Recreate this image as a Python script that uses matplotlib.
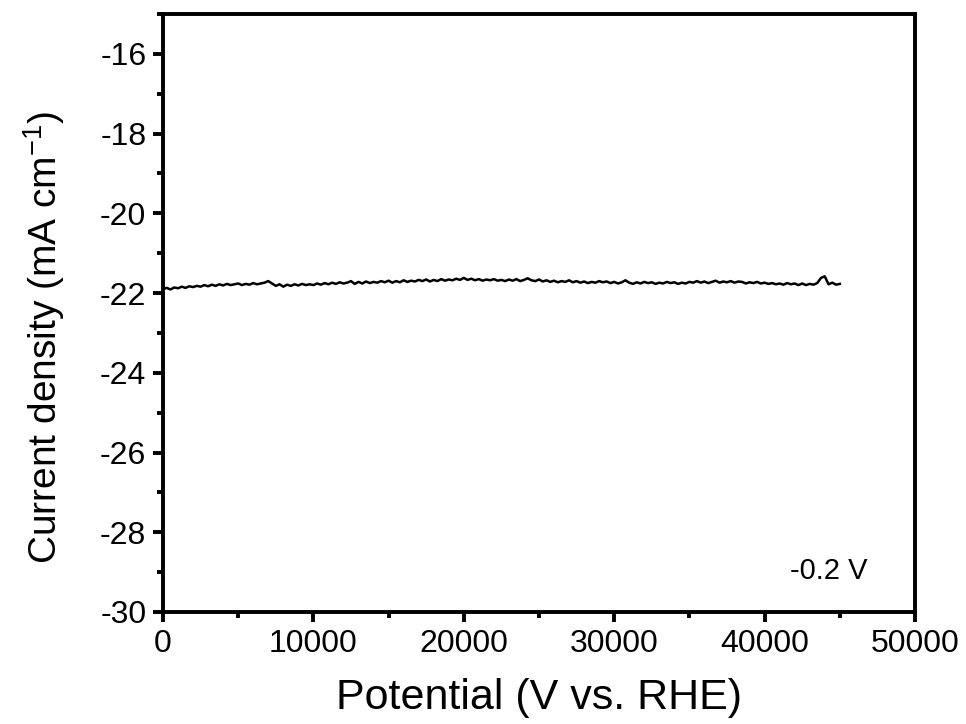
import numpy as np
import matplotlib
matplotlib.use("Agg")
import matplotlib.pyplot as plt
from matplotlib.ticker import MultipleLocator

plt.rcParams["font.family"] = ["Liberation Sans", "DejaVu Sans"]
plt.rcParams["axes.unicode_minus"] = False
plt.rcParams["mathtext.fontset"] = "custom"
plt.rcParams["mathtext.rm"] = "Liberation Sans"
plt.rcParams["mathtext.default"] = "regular"

# time samples every 250 s, current density
time_s = np.arange(0, 45001, 250)
current = [
    -21.90, -21.87, -21.91, -21.86, -21.88, -21.84, -21.87, -21.83, -21.85, -21.82,
    -21.84, -21.80, -21.83, -21.79, -21.82, -21.78, -21.81, -21.77, -21.80, -21.78,
    -21.76, -21.80, -21.77, -21.79, -21.75, -21.78, -21.76, -21.74, -21.70, -21.76,
    -21.82, -21.78, -21.84, -21.79, -21.82, -21.78, -21.81, -21.77, -21.80, -21.78,
    -21.80, -21.76, -21.79, -21.75, -21.78, -21.74, -21.77, -21.73, -21.76, -21.74,
    -21.70, -21.77, -21.72, -21.76, -21.71, -21.75, -21.72, -21.74, -21.70, -21.73,
    -21.69, -21.74, -21.70, -21.73, -21.68, -21.72, -21.69, -21.71, -21.67, -21.70,
    -21.66, -21.71, -21.67, -21.70, -21.65, -21.69, -21.66, -21.68, -21.64, -21.67,
    -21.62, -21.67, -21.64, -21.68, -21.65, -21.69, -21.66, -21.68, -21.65, -21.69,
    -21.67, -21.70, -21.66, -21.69, -21.65, -21.70, -21.67, -21.63, -21.68, -21.70,
    -21.66, -21.71, -21.68, -21.72, -21.69, -21.73, -21.70, -21.72, -21.68, -21.73,
    -21.70, -21.74, -21.71, -21.75, -21.72, -21.74, -21.70, -21.73, -21.71, -21.75,
    -21.72, -21.76, -21.73, -21.68, -21.74, -21.77, -21.73, -21.76, -21.72, -21.75,
    -21.73, -21.77, -21.74, -21.76, -21.72, -21.75, -21.73, -21.77, -21.74, -21.76,
    -21.72, -21.74, -21.70, -21.74, -21.71, -21.75, -21.72, -21.69, -21.74, -21.71,
    -21.73, -21.70, -21.74, -21.71, -21.72, -21.76, -21.73, -21.75, -21.72, -21.76,
    -21.74, -21.77, -21.75, -21.78, -21.76, -21.79, -21.75, -21.78, -21.76, -21.80,
    -21.76, -21.80, -21.77, -21.79, -21.75, -21.62, -21.58, -21.78, -21.74, -21.79,
    -21.77,
]

fig = plt.figure(figsize=(9.66, 7.24), dpi=100)
ax = fig.add_axes([0.1687, 0.1547, 0.7785, 0.826])
ax.plot(time_s, current, color="black", lw=1.8)

ax.set_xlim(0, 50000)
ax.set_ylim(-30, -15)
ax.xaxis.set_major_locator(MultipleLocator(10000))
ax.xaxis.set_minor_locator(MultipleLocator(5000))
ax.yaxis.set_major_locator(MultipleLocator(2))
ax.yaxis.set_minor_locator(MultipleLocator(1))
ax.set_yticks(np.arange(-30, -15, 2))

for s in ax.spines.values():
    s.set_linewidth(2.8)
ax.tick_params(which="major", direction="out", length=7, width=2.8, labelsize=23,
               pad=5, top=False, right=False)
ax.tick_params(which="minor", direction="out", length=4, width=2.8,
               top=False, right=False)

ax.set_xlabel("Potential (V vs. RHE)", fontsize=31, labelpad=14)
ax.set_ylabel("Current density (mA cm$^{-1}$)", fontsize=28, labelpad=24, y=0.46)
ax.text(41700, -28.97, "-0.2 V", fontsize=21, va="center", ha="left")

fig.savefig("out.png", dpi=100)
